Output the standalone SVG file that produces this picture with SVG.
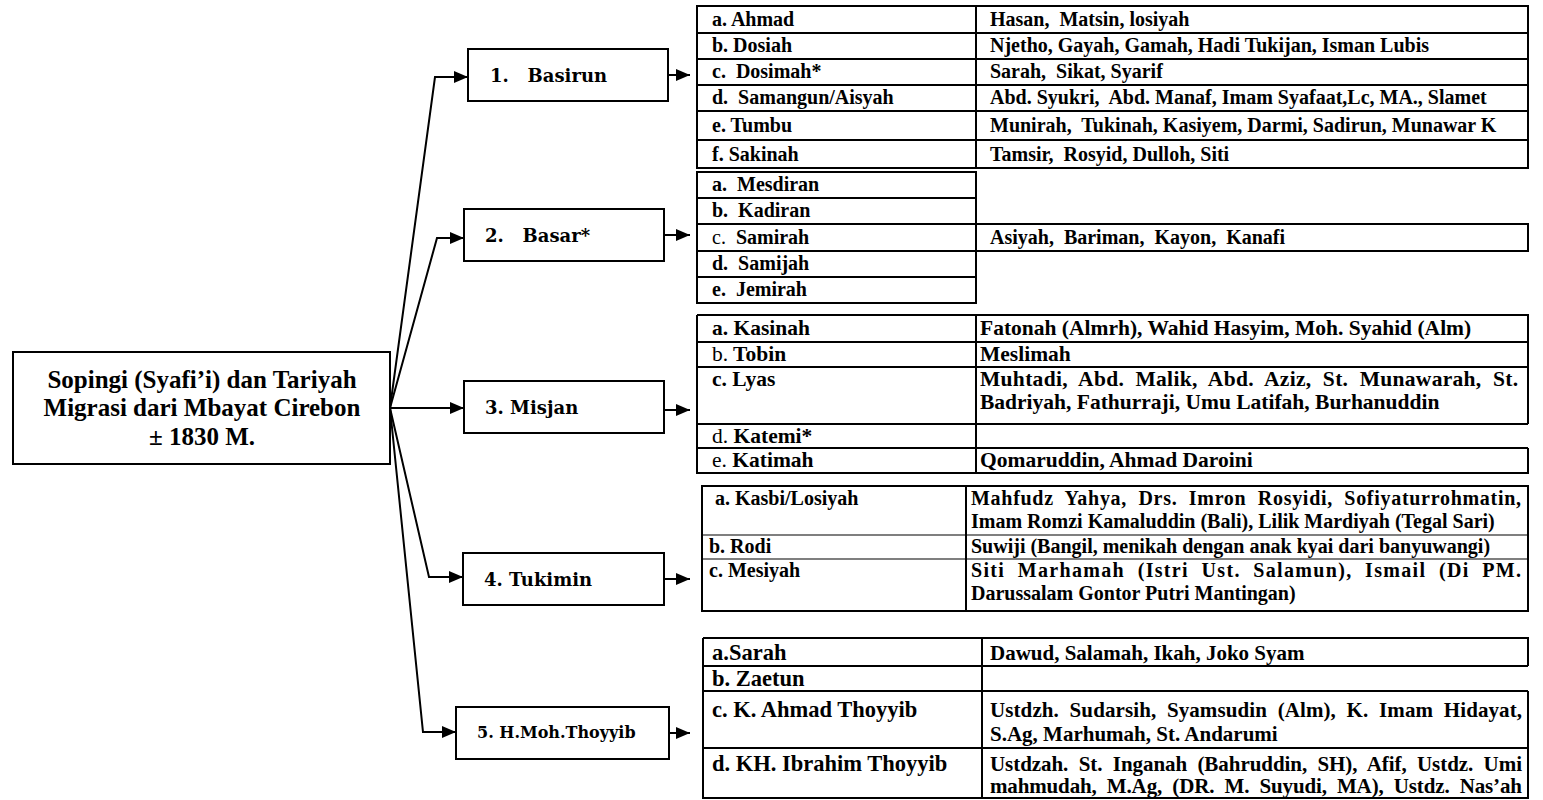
<svg xmlns="http://www.w3.org/2000/svg" width="1543" height="800" viewBox="0 0 1543 800">
<style>
.box{fill:#fff;stroke:#000;stroke-width:2}
.ln{fill:none;stroke:#000;stroke-width:2}
.thin{fill:none;stroke:#000;stroke-width:1.2}
.con{fill:none;stroke:#000;stroke-width:2}
text{font-family:"Liberation Serif","Times New Roman",serif;font-weight:bold;fill:#000;white-space:pre}
.t{font-size:20px}
.t3{font-size:21.5px}
.t5l{font-size:22.5px}
.t5r{font-size:21px}
.n{font-family:"DejaVu Serif",serif;font-size:18px}
.n5{font-family:"DejaVu Serif",serif;font-size:16px}
.root{font-size:25px}
.lt{font-weight:normal}
</style>
<defs>
<marker id="ah" markerWidth="14" markerHeight="12" refX="14" refY="6" orient="auto" markerUnits="userSpaceOnUse"><path d="M0,0 L14,6 L0,12 z" fill="#000"/></marker>
</defs>
<rect width="1543" height="800" fill="#fff"/>

<g id="connectors">
<path class="con" d="M390,408 L435,77 L468,77" marker-end="url(#ah)"/>
<path class="con" d="M390,408 L437,238 L464,238" marker-end="url(#ah)"/>
<path class="con" d="M390,408 L464,408" marker-end="url(#ah)"/>
<path class="con" d="M390,408 L429,577 L463,577" marker-end="url(#ah)"/>
<path class="con" d="M390,408 L423,732 L456,732" marker-end="url(#ah)"/>
<path class="con" d="M668,75 L690,75" marker-end="url(#ah)"/>
<path class="con" d="M664,235 L690,235" marker-end="url(#ah)"/>
<path class="con" d="M664,410 L690,410" marker-end="url(#ah)"/>
<path class="con" d="M664,579 L690,579" marker-end="url(#ah)"/>
<path class="con" d="M669,733 L690,733" marker-end="url(#ah)"/>
</g>

<g id="root">
<rect class="box" x="13" y="352" width="377" height="112"/>
<text class="root" x="202" y="388" text-anchor="middle">Sopingi (Syafi’i) dan Tariyah</text>
<text class="root" x="202" y="416" text-anchor="middle">Migrasi dari Mbayat Cirebon</text>
<text class="root" x="202" y="445" text-anchor="middle">± 1830 M.</text>
</g>

<g id="n1">
<rect class="box" x="468" y="49" width="200" height="52"/>
<text class="n" x="490" y="82">1.   Basirun</text>
</g>
<g id="n2">
<rect class="box" x="464" y="209" width="200" height="52"/>
<text class="n" x="485" y="242">2.   Basar*</text>
</g>
<g id="n3">
<rect class="box" x="464" y="381" width="200" height="52"/>
<text class="n" x="485" y="414">3. Misjan</text>
</g>
<g id="n4">
<rect class="box" x="463" y="553" width="201" height="52"/>
<text class="n" x="484" y="586">4. Tukimin</text>
</g>
<g id="n5">
<rect class="box" x="456" y="707" width="213" height="52"/>
<text class="n5" x="477" y="738">5. H.Moh.Thoyyib</text>
</g>

<g id="t1">
<rect class="ln" x="697" y="6" width="831" height="162"/>
<path class="ln" d="M697,33H1528M697,59H1528M697,85H1528M697,111H1528M697,140H1528M976,6V168"/>
<text class="t" x="712" y="26">a. Ahmad</text>
<text class="t" x="712" y="52">b. Dosiah</text>
<text class="t" x="712" y="78">c.  Dosimah*</text>
<text class="t" x="712" y="104">d.  Samangun/Aisyah</text>
<text class="t" x="712" y="132">e. Tumbu</text>
<text class="t" x="712" y="161">f. Sakinah</text>
<text class="t" x="990" y="26">Hasan,  Matsin, losiyah</text>
<text class="t" x="990" y="52">Njetho, Gayah, Gamah, Hadi Tukijan, Isman Lubis</text>
<text class="t" x="990" y="78">Sarah,  Sikat, Syarif</text>
<text class="t" x="990" y="104">Abd. Syukri,  Abd. Manaf, Imam Syafaat,Lc, MA., Slamet</text>
<text class="t" x="990" y="132">Munirah,  Tukinah, Kasiyem, Darmi, Sadirun, Munawar K</text>
<text class="t" x="990" y="161">Tamsir,  Rosyid, Dulloh, Siti</text>
</g>

<g id="t2">
<rect class="ln" x="697" y="172" width="279" height="131"/>
<path class="ln" d="M697,198H976M697,224H976M697,251H976M697,277H976"/>
<rect class="ln" x="976" y="224" width="552" height="27"/>
<text class="t" x="712" y="191">a.  Mesdiran</text>
<text class="t" x="712" y="217">b.  Kadiran</text>
<text class="t" x="712" y="244"><tspan class="lt">c.</tspan>  Samirah</text>
<text class="t" x="712" y="270">d.  Samijah</text>
<text class="t" x="712" y="296">e.  Jemirah</text>
<text class="t" x="990" y="244">Asiyah,  Bariman,  Kayon,  Kanafi</text>
</g>

<g id="t3">
<path class="ln" d="M697,315H1528V424M1528,448V473H697V315M697,342H1528M697,367H1528M697,424H1528M697,448H1528M976,315V473"/>
<text class="t3" x="712" y="335">a. Kasinah</text>
<text class="t3" x="712" y="361"><tspan class="lt">b.</tspan> Tobin</text>
<text class="t3" x="712" y="386">c. Lyas</text>
<text class="t3" x="712" y="443"><tspan class="lt">d.</tspan> Katemi*</text>
<text class="t3" x="712" y="467"><tspan class="lt">e.</tspan> Katimah</text>
<text class="t3" x="980" y="335">Fatonah (Almrh), Wahid Hasyim, Moh. Syahid (Alm)</text>
<text class="t3" x="980" y="361">Meslimah</text>
<text class="t3" x="980" y="386" textLength="538" lengthAdjust="spacing">Muhtadi,  Abd.  Malik,  Abd.  Aziz,  St.  Munawarah,  St.</text>
<text class="t3" x="980" y="409">Badriyah, Fathurraji, Umu Latifah, Burhanuddin</text>
<text class="t3" x="980" y="467">Qomaruddin, Ahmad Daroini</text>
</g>

<g id="t4">
<rect class="ln" x="702" y="486" width="826" height="125"/>
<path class="thin" d="M702,535H1528M702,559H1528"/>
<path class="ln" d="M966,486V611"/>
<text class="t" x="715" y="505">a. Kasbi/Losiyah</text>
<text class="t" x="709" y="553">b. Rodi</text>
<text class="t" x="709" y="577">c. Mesiyah</text>
<text class="t" x="971" y="505" textLength="550" lengthAdjust="spacing">Mahfudz  Yahya,  Drs.  Imron  Rosyidi,  Sofiyaturrohmatin,</text>
<text class="t" x="971" y="528">Imam Romzi Kamaluddin (Bali), Lilik Mardiyah (Tegal Sari)</text>
<text class="t" x="971" y="553">Suwiji (Bangil, menikah dengan anak kyai dari banyuwangi)</text>
<text class="t" x="971" y="577" textLength="550" lengthAdjust="spacing">Siti  Marhamah  (Istri  Ust.  Salamun),  Ismail  (Di  PM.</text>
<text class="t" x="971" y="600">Darussalam Gontor Putri Mantingan)</text>
</g>

<g id="t5">
<path class="ln" d="M703,638H1528V666M1528,691V798H703V638M703,666H1528M703,691H1528M703,748H1528M982,638V798"/>
<text class="t5l" x="712" y="660">a.Sarah</text>
<text class="t5l" x="712" y="686">b. Zaetun</text>
<text class="t5l" x="712" y="717">c. K. Ahmad Thoyyib</text>
<text class="t5l" x="712" y="771">d. KH. Ibrahim Thoyyib</text>
<text class="t5r" x="990" y="660">Dawud, Salamah, Ikah, Joko Syam</text>
<text class="t5r" x="990" y="717" textLength="532" lengthAdjust="spacing">Ustdzh.  Sudarsih,  Syamsudin  (Alm),  K.  Imam  Hidayat,</text>
<text class="t5r" x="990" y="741">S.Ag, Marhumah, St. Andarumi</text>
<text class="t5r" x="990" y="771" textLength="532" lengthAdjust="spacing">Ustdzah.  St.  Inganah  (Bahruddin,  SH),  Afif,  Ustdz.  Umi</text>
<text class="t5r" x="990" y="793" textLength="532" lengthAdjust="spacing">mahmudah,  M.Ag,  (DR.  M.  Suyudi,  MA),  Ustdz.  Nas’ah</text>
</g>
</svg>
